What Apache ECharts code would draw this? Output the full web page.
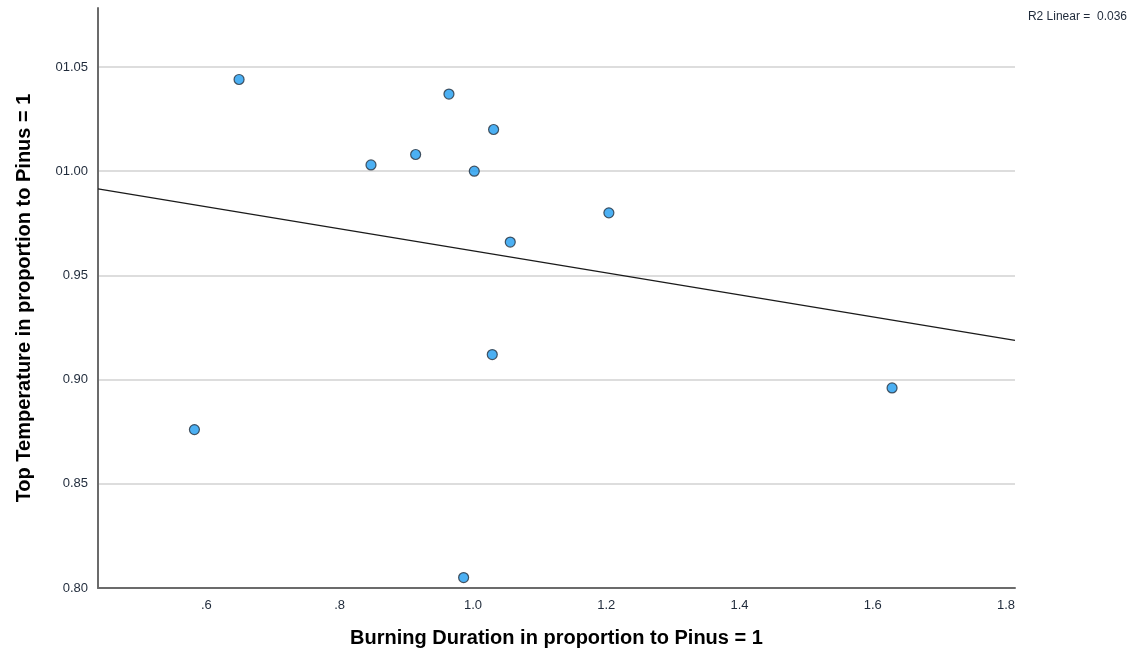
<!DOCTYPE html>
<html>
<head>
<meta charset="utf-8">
<script src="https://cdn.jsdelivr.net/npm/echarts@6/dist/echarts.min.js"></script>
<style>
  html, body { margin: 0; padding: 0; background: #ffffff; }
  #chart { width: 1139px; height: 654px; }
</style>
</head>
<body>
<div id="chart"></div>
<script>
// Burning duration (x) and top temperature (y), both relative to Pinus = 1
const burningDuration = [0.649, 0.964, 1.031, 0.914, 0.847, 1.002, 1.204, 1.056, 1.029, 1.629, 0.582, 0.986];
const topTemperature  = [1.044, 1.037, 1.020, 1.008, 1.003, 1.000, 0.980, 0.966, 0.912, 0.896, 0.876, 0.805];

// Y tick labels as printed on the axis
const yTickValues = [0.80, 0.85, 0.90, 0.95, 1.00, 1.05];
const yTickLabels = ['0.80', '0.85', '0.90', '0.95', '01.00', '01.05'];

// Axis extents
const xRange = [0.4373, 1.8135];
const yRange = [0.80, 1.0783];

// Ordinary least-squares fit for the reference line
const n = burningDuration.length;
const mx = burningDuration.reduce((a, b) => a + b, 0) / n;
const my = topTemperature.reduce((a, b) => a + b, 0) / n;
let sxy = 0, sxx = 0, syy = 0;
for (let i = 0; i < n; i++) {
  const dx = burningDuration[i] - mx, dy = topTemperature[i] - my;
  sxy += dx * dy; sxx += dx * dx; syy += dy * dy;
}
const slope = sxy / sxx;
const intercept = my - slope * mx;
const r2 = (sxy * sxy) / (sxx * syy);
const fitLine = xRange.map(x => [x, intercept + slope * x]);

const points = burningDuration.map((x, i) => [x, topTemperature[i]]);

const chart = echarts.init(document.getElementById('chart'), null, { renderer: 'canvas' });
const font = '"Liberation Sans", Arial, sans-serif';

chart.setOption({
  animation: false,
  backgroundColor: '#ffffff',
  grid: { left: 98, right: 124, top: 8, bottom: 66, containLabel: false },
  xAxis: {
    type: 'value',
    min: xRange[0],
    max: xRange[1],
    splitNumber: 7,
    name: 'Burning Duration in proportion to Pinus = 1',
    nameLocation: 'middle',
    nameGap: 40,
    nameTextStyle: { fontFamily: font, fontWeight: 'bold', fontSize: 20, color: '#000' },
    axisLine: { show: true, onZero: false, lineStyle: { color: '#6b6b6b', width: 2 } },
    axisTick: { show: false },
    splitLine: { show: false },
    axisLabel: {
      showMinLabel: false,
      showMaxLabel: false,
      margin: 11,
      fontFamily: font,
      fontSize: 13,
      color: '#1f2a3a',
      formatter: v => (v < 1 ? v.toFixed(1).replace(/^0/, '') : v.toFixed(1))
    }
  },
  yAxis: {
    type: 'value',
    min: yRange[0],
    max: yRange[1],
    interval: 0.05,
    name: 'Top Temperature in proportion to Pinus = 1',
    nameLocation: 'middle',
    nameGap: 64,
    nameTextStyle: { fontFamily: font, fontWeight: 'bold', fontSize: 20, color: '#000' },
    axisLine: { show: true, onZero: false, lineStyle: { color: '#6b6b6b', width: 2 } },
    axisTick: { show: false },
    splitLine: {
      show: true,
      showMinLine: false,
      showMaxLine: false,
      lineStyle: { color: '#d2d2d2', width: 1.5 }
    },
    axisLabel: {
      showMaxLabel: false,
      margin: 10,
      fontFamily: font,
      fontSize: 13,
      color: '#1f2a3a',
      formatter: v => {
        const i = yTickValues.findIndex(t => Math.abs(t - v) < 1e-6);
        return i >= 0 ? yTickLabels[i] : '';
      }
    }
  },
  graphic: [{
    type: 'text',
    right: 12,
    top: 11,
    style: {
      text: 'R2 Linear =  ' + r2.toFixed(3),
      font: '12px ' + font,
      fill: '#1f2a3a'
    }
  }],
  series: [
    {
      type: 'line',
      data: fitLine,
      symbol: 'none',
      lineStyle: { color: '#1a1a1a', width: 1.2 },
      silent: true,
      z: 2
    },
    {
      type: 'scatter',
      data: points,
      symbol: 'circle',
      symbolSize: 10,
      itemStyle: { color: '#1f9cf0', borderColor: '#26303c', borderWidth: 1.2 },
      z: 3
    }
  ]
});
</script>
</body>
</html>
